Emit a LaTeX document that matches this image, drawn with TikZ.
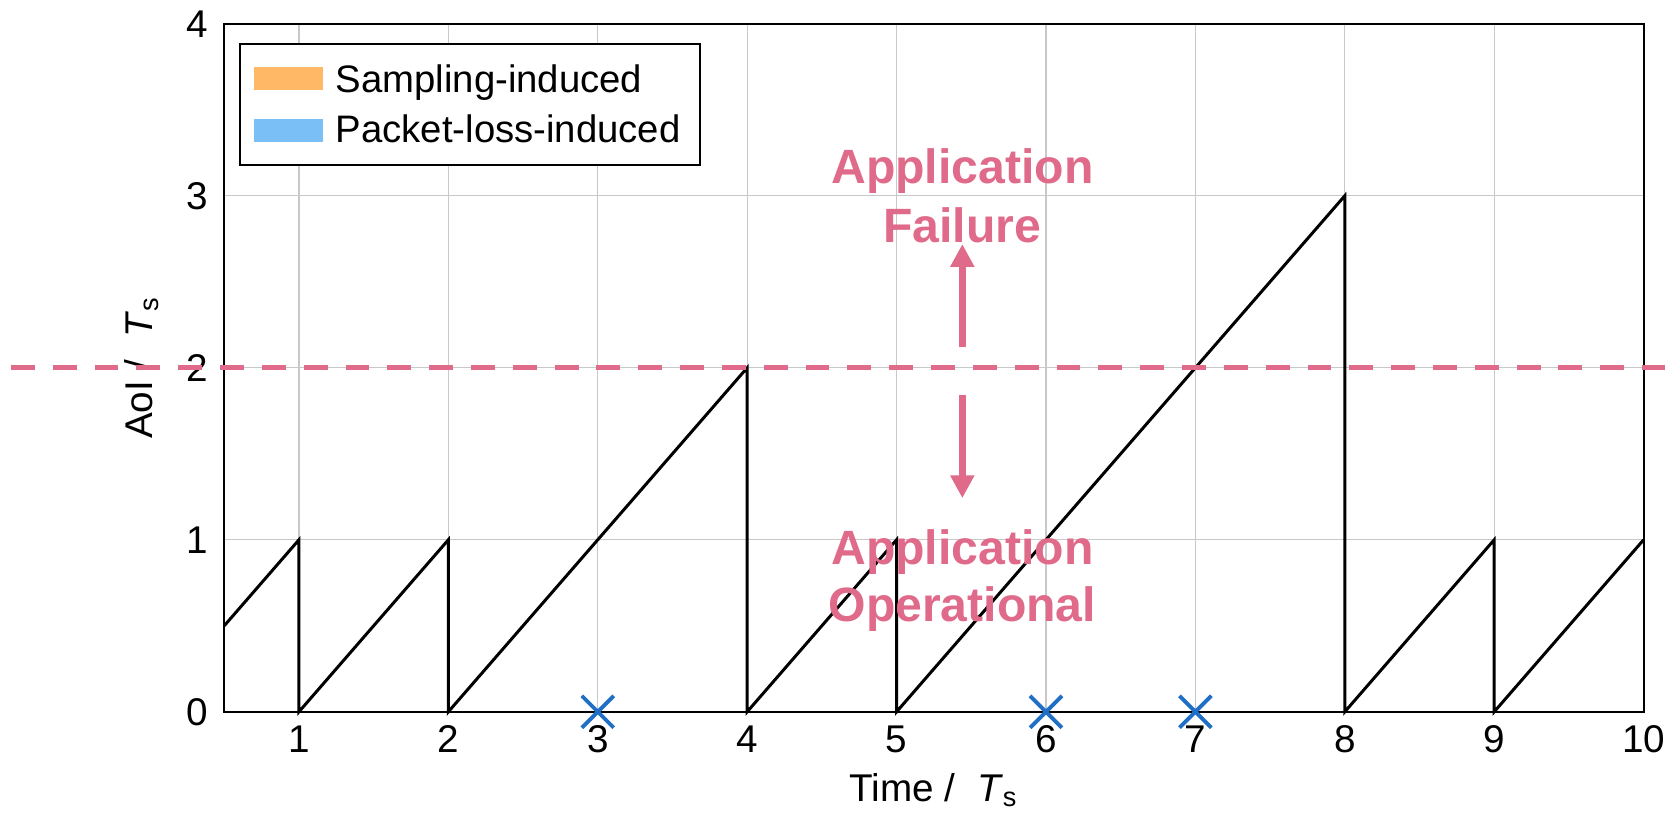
\documentclass[tikz,border=0pt]{standalone}
\usepackage{fontspec}
\setmainfont{Liberation Sans}
\usetikzlibrary{arrows.meta, shapes.misc}

\definecolor{limitpink}{HTML}{E06A8A}
\definecolor{lossblue}{HTML}{1F6FC6}
\definecolor{samporange}{HTML}{FFB966}
\definecolor{losslight}{HTML}{7BBFF7}
\definecolor{gridgray}{HTML}{C8C8C8}

\begin{document}
\begin{tikzpicture}[x=1.494cm, y=1.72cm,
    every node/.style={inner sep=0pt, font=\fontsize{11}{13}\selectfont},
    axislabel/.style={font=\fontsize{11}{13}\selectfont},
    legendtext/.style={font=\fontsize{10.9}{13}\selectfont, anchor=base west},
    appltext/.style={font=\fontsize{13.7}{16}\selectfont\bfseries, text=limitpink, anchor=base},
    limitarrow/.style={limitpink, line width=2pt, -{Triangle[length=6.5pt, width=6.5pt]}},
    lossmark/.style={cross out, draw=lossblue, line width=1.1pt, minimum size=0.28cm}]
  \useasboundingbox (-1.001,-0.606) rectangle (10.143,4.138);

  % 1. Grade e moldura
  \foreach \i in {1,...,9}
    \draw[gridgray, line width=0.35pt] (\i,0) -- (\i,4);
  \foreach \j in {1,...,3}
    \draw[gridgray, line width=0.35pt] (0.5,\j) -- (10,\j);
  \draw[line width=0.55pt] (0.5,0) rectangle (10,4);

  % 2. Rótulos dos eixos
  \foreach \i in {1,...,10}
    \node[anchor=base] (tx\i) at (\i,-0.234) {\i};   % marcas do tempo
  \foreach \j in {0,...,4}
    \node[anchor=east] (ty\j) at (0.398,\j) {\j};    % marcas da AoI
  \node[axislabel, anchor=base] (xlab) at (5.25,-0.52) {Time /\ \ \textit{T}\textsubscript{s}};
  \node[axislabel, anchor=base, rotate=90] (ylab) at (0.023,2) {AoI /\ \ \textit{T}\textsubscript{s}};

  % 3. Curva dente de serra da AoI
  \draw[line width=0.85pt] (0.5,0.5) -- (1,1) -- (1,0) -- (2,1) -- (2,0) -- (4,2) -- (4,0)
    -- (5,1) -- (5,0) -- (8,3) -- (8,0) -- (9,1) -- (9,0) -- (10,1);

  % 4. Limiar da aplicação
  \draw[limitpink, line width=1.45pt, dash pattern=on 6.8pt off 5.1pt] (-0.928,2) -- (10.143,2);

  % 5. Pacotes perdidos
  \foreach \i in {3,6,7}
    \node[lossmark] (loss\i) at (\i,0) {};

  % 6. Legenda
  \draw[line width=0.55pt, fill=white] (0.605,3.178) rectangle (3.684,3.882);
  \fill[samporange] (0.699,3.614) rectangle (1.160,3.748);
  \fill[losslight] (0.699,3.312) rectangle (1.160,3.446);
  \node[legendtext] (lsamp) at (1.241,3.603) {Sampling-induced};
  \node[legendtext] (lloss) at (1.241,3.312) {Packet-loss-induced};

  % 7. Regiões acima e abaixo do limiar
  \node[appltext] (failA) at (5.44,3.074) {Application};
  \node[appltext] (failB) at (5.44,2.731) {Failure};
  \node[appltext] (operA) at (5.44,0.859) {Application};
  \node[appltext] (operB) at (5.44,0.522) {Operational};
  \coordinate (upS) at (5.44,2.120);
  \coordinate (upE) at (5.44,2.719);
  \coordinate (dnS) at (5.44,1.841);
  \coordinate (dnE) at (5.44,1.242);
  \draw[limitarrow] (upS) -- (upE);
  \draw[limitarrow] (dnS) -- (dnE);
\end{tikzpicture}
\end{document}
